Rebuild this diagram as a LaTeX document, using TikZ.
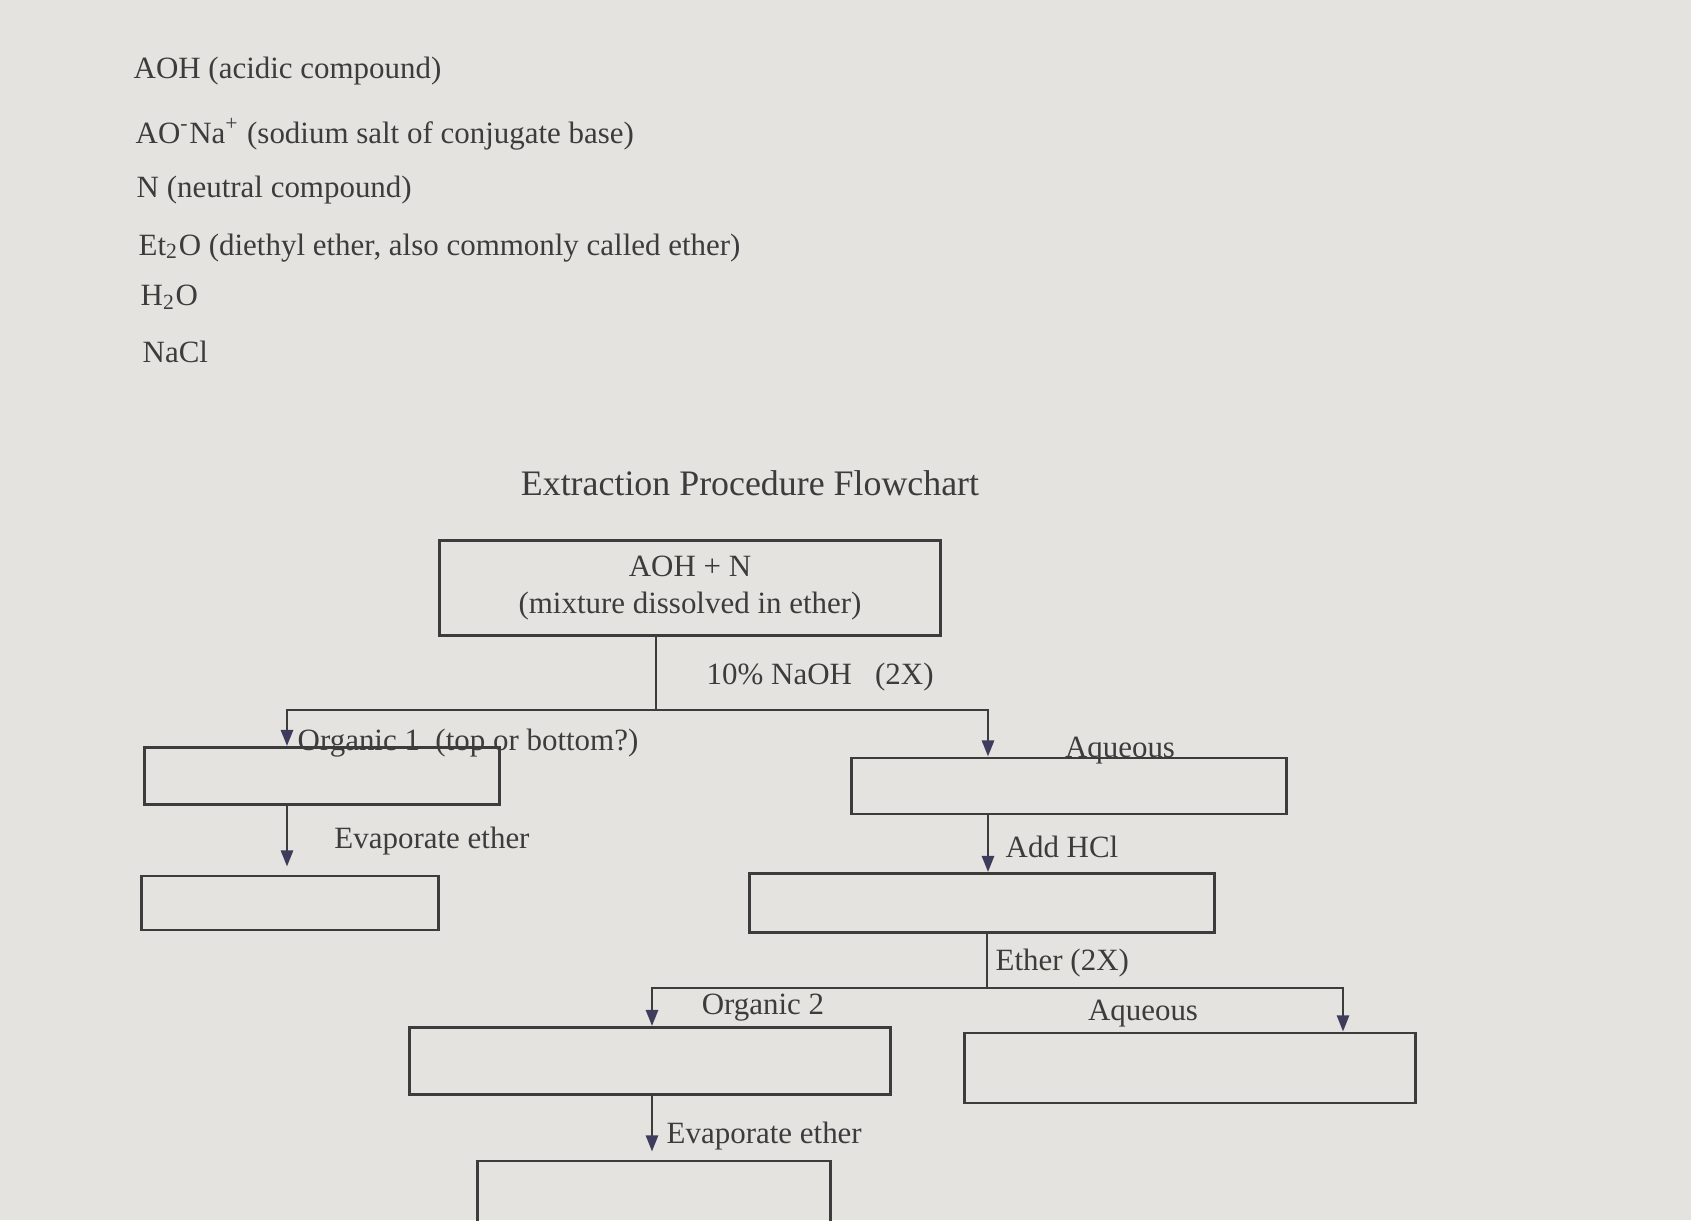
\documentclass[tikz,border=0pt]{standalone}
\usepackage{fontspec}
\setmainfont{Liberation Serif}
\usetikzlibrary{arrows.meta}
\definecolor{paper}{RGB}{229,227,223}
\definecolor{ink}{RGB}{60,60,60}
\definecolor{tipcol}{RGB}{62,60,92}
\tikzset{
    box/.style={draw=ink, line width=0.8pt, inner sep=0pt},
    conn/.style={draw=ink, line width=0.8pt},
    arr/.style={conn, -{Triangle[width=3.4pt,length=4.6pt,color=tipcol]}},
    lbl/.style={text=ink, inner sep=0pt, font=\fontsize{8.8}{10.5}\selectfont},
}

\begin{document}
\begin{tikzpicture}[x=0.01cm,y=-0.01cm]
        \fill[paper] (0,0) rectangle (1691,1220);
        \useasboundingbox (0,0) rectangle (1691,1220);
        \clip (0,0) rectangle (1691,1220);
        % legend
        \node[lbl, anchor=west] (leg1) at (133,71) {AOH (acidic compound)};
        \node[lbl, anchor=west] (leg2) at (135,134) {AO\textsuperscript{-}Na\textsuperscript{+} (sodium salt of conjugate base)};
        \node[lbl, anchor=west] (leg3) at (136,190) {N (neutral compound)};
        \node[lbl, anchor=west] (leg4) at (138,248) {Et\textsubscript{2}O (diethyl ether, also commonly called ether)};
        \node[lbl, anchor=west] (leg5) at (140,297) {H\textsubscript{2}O};
        \node[lbl, anchor=west] (leg6) at (142,352) {NaCl};
        \node[lbl, font=\fontsize{10.2}{12}\selectfont] (title) at (750,483) {Extraction Procedure Flowchart};
        % boxes
        \node[box, minimum width=5.01cm, minimum height=0.95cm, align=center, text=ink,
              font=\fontsize{8.8}{10.5}\selectfont] (mix) at (690,588) {AOH + N\\(mixture dissolved in ether)};
        \node[box, minimum width=3.55cm, minimum height=0.57cm] (org1) at (322,776) {};
        \node[box, minimum width=4.35cm, minimum height=0.56cm] (aq1) at (1069,786) {};
        \node[box, minimum width=2.97cm, minimum height=0.54cm] (res1) at (290,903) {};
        \node[box, minimum width=4.65cm, minimum height=0.59cm] (acid) at (982,903) {};
        \node[box, minimum width=4.81cm, minimum height=0.67cm] (org2) at (650,1061) {};
        \node[box, minimum width=4.51cm, minimum height=0.70cm] (aq2) at (1190,1068) {};
        \node[box, minimum width=3.53cm, minimum height=1.28cm] (res2) at (654,1225) {};
        % split points
        \coordinate (split1) at (656,710);
        \coordinate (l1) at (287,710);
        \coordinate (r1) at (988,710);
        \coordinate (split2) at (987,988);
        \coordinate (l2) at (652,988);
        \coordinate (r2) at (1343,988);
        % labels
        \node[lbl, anchor=west] (naoh) at (706,677) {10\% NaOH~~~(2X)};
        \node[lbl, anchor=base west] (org1lbl) at (297,750) {Organic 1~~(top or bottom?)};
        \node[lbl, anchor=base] (aq1lbl) at (1120,757) {Aqueous};
        \node[lbl] (evap1) at (432,841) {Evaporate ether};
        \node[lbl, anchor=west] (hcl) at (1005,847) {Add HCl};
        \node[lbl, anchor=west] (ether) at (995,963) {Ether (2X)};
        \node[lbl] (org2lbl) at (763,1008) {Organic 2};
        \node[lbl] (aq2lbl) at (1143,1014) {Aqueous};
        \node[lbl, anchor=west] (evap2) at (666,1136) {Evaporate ether};
        % connectors
        \draw[conn] (mix.south -| split1) -- (split1);
        \draw[arr] (split1) -- (l1) -- (l1 |- org1.north);
        \draw[arr] (split1) -- (r1) -- (r1 |- aq1.north);
        \draw[arr, shorten >=0.8mm] (org1.south -| l1) -- (res1.north -| l1);
        \draw[arr] (aq1.south -| r1) -- (acid.north -| r1);
        \draw[conn] (acid.south -| split2) -- (split2);
        \draw[arr] (split2) -- (l2) -- (l2 |- org2.north);
        \draw[arr] (split2) -- (r2) -- (r2 |- aq2.north);
        \draw[arr, shorten >=0.8mm] (org2.south -| l2) -- (res2.north -| l2);
    \end{tikzpicture}
\end{document}
